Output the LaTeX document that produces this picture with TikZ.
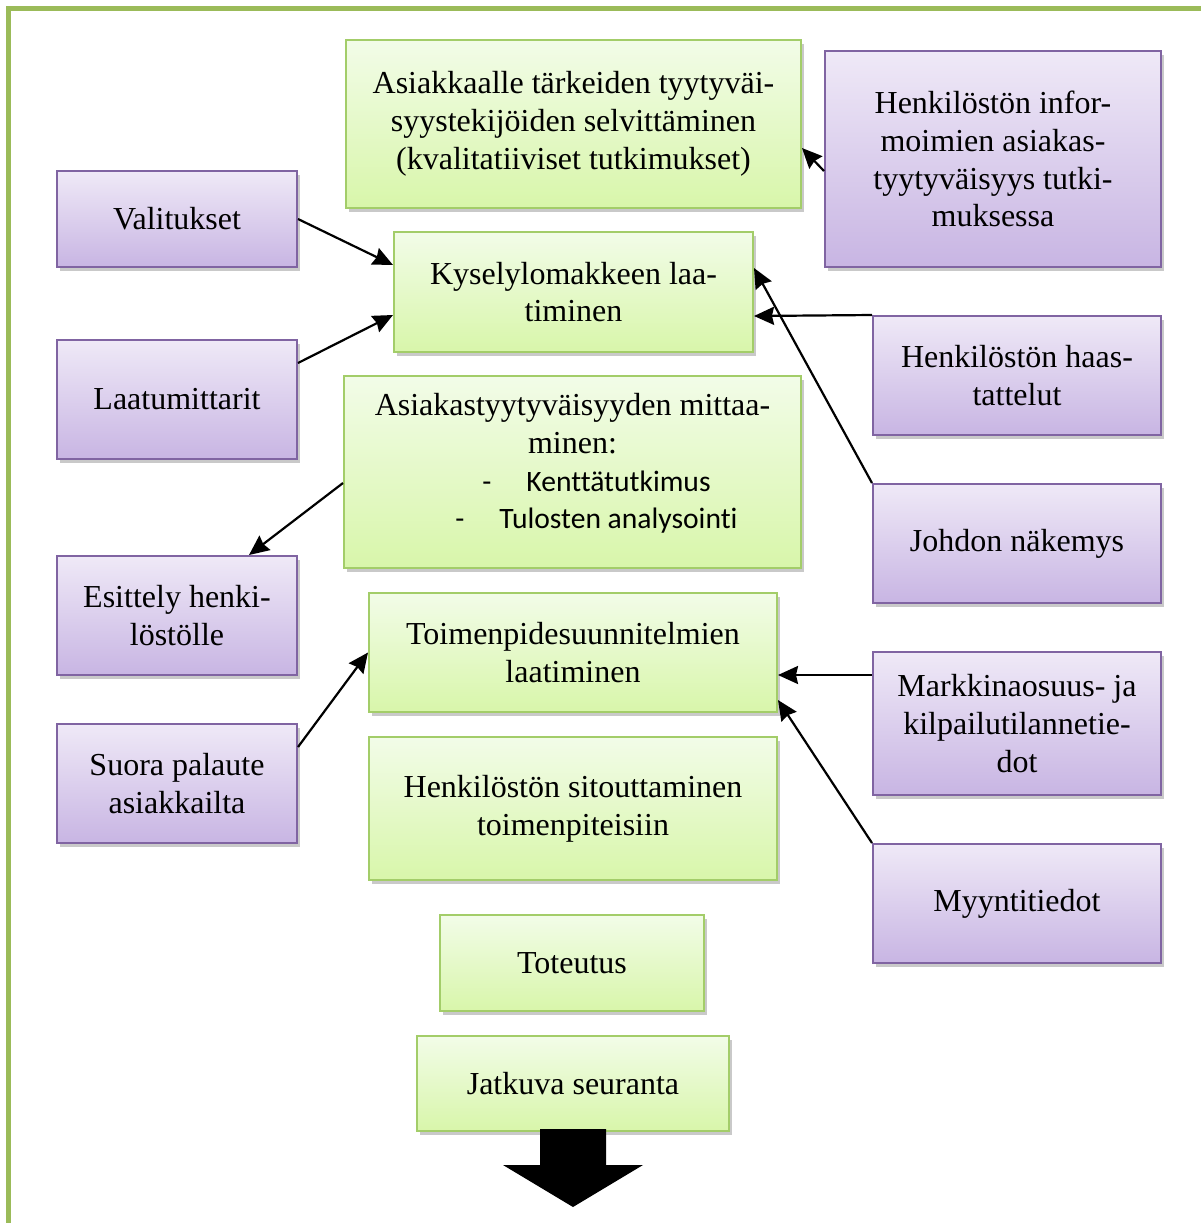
\documentclass[tikz,border=0pt]{standalone}
\usepackage{fontspec}
\setmainfont{Liberation Serif}
\newfontfamily\calibri[Ligatures=NoCommon]{Carlito}
\usetikzlibrary{shadows,arrows.meta}
\definecolor{framegreen}{RGB}{155,187,89}
\definecolor{gborder}{RGB}{163,205,105}
\definecolor{gtop}{RGB}{242,252,232}
\definecolor{gbot}{RGB}{216,246,170}
\definecolor{pborder}{RGB}{128,100,162}
\definecolor{ptop}{RGB}{239,233,247}
\definecolor{pbot}{RGB}{200,181,227}
\newcommand\bul[1]{{\calibri\fontsize{14.8pt}{18.75pt}\selectfont\hspace*{24pt}\makebox[22pt][l]{-}#1}}
\begin{document}
\begin{tikzpicture}[x=0.5pt,y=-0.5pt,
  corners/.style n args={4}{at={({(#1+#3)/2},{(#2+#4)/2})},
    minimum width={0.5pt*(#3-#1)}, minimum height={0.5pt*(#4-#2)}},
  boxbase/.style={inner sep=0pt, align=center, line width=1pt,
    font=\fontsize{16pt}{18.9pt}\selectfont,
    drop shadow={shadow xshift=1.5pt, shadow yshift=-1.8pt, opacity=0.3, fill=black!70}},
  gbox/.style={boxbase, draw=gborder, top color=gtop, bottom color=gbot},
  pbox/.style={boxbase, draw=pborder, top color=ptop, bottom color=pbot},
  conn/.style={line width=1.1pt, -{Stealth[length=10pt,width=9pt,inset=1pt]}}]
\useasboundingbox (0,0) rectangle (1201,1223);
\draw[framegreen, line width=2.5pt] (8.5,1240) -- (8.5,8.5) -- (1220,8.5);

% green boxes
\node[gbox, corners={346}{40}{801}{208}] (aska) {Asiakkaalle tärkeiden tyytyväi-\\syystekijöiden selvittäminen\\(kvalitatiiviset tutkimukset)};
\node[gbox, corners={394}{232}{753}{352}] (kys) {Kyselylomakkeen laa-\\timinen};
\node[gbox, corners={344}{376}{801}{568}] (mit) {Asiakastyytyväisyyden mittaa-\\minen:\\\bul{Kenttätutkimus}\\\bul{Tulosten analysointi}\rule[-11pt]{0pt}{11pt}};
\node[gbox, corners={369}{593}{777}{712}] (toim) {Toimenpidesuunnitelmien\\laatiminen};
\node[gbox, corners={369}{737}{777}{880}] (sit) {Henkilöstön sitouttaminen\\toimenpiteisiin};
\node[gbox, corners={440}{915}{704}{1011}] (tot) {Toteutus};
\node[gbox, corners={417}{1036}{729}{1131}] (jat) {Jatkuva seuranta};

% purple boxes
\node[pbox, corners={57}{171}{297}{267}] (val) {Valitukset};
\node[pbox, corners={57}{340}{297}{459}] (laa) {Laatumittarit};
\node[pbox, corners={57}{556}{297}{675}] (esi) {Esittely henki-\\löstölle};
\node[pbox, corners={57}{724}{297}{843}] (suo) {Suora palaute\\asiakkailta};
\node[pbox, corners={825}{51}{1161}{267}] (inf) {Henkilöstön infor-\\moimien asiakas-\\tyytyväisyys tutki-\\muksessa};
\node[pbox, corners={873}{316}{1161}{435}] (haa) {Henkilöstön haas-\\tattelut};
\node[pbox, corners={873}{484}{1161}{603}] (joh) {Johdon näkemys};
\node[pbox, corners={873}{652}{1161}{795}] (mar) {Markkinaosuus- ja\\kilpailutilannetie-\\dot};
\node[pbox, corners={873}{844}{1161}{963}] (myy) {Myyntitiedot};

% connectors
\draw[conn] (val.east) -- ([yshift=13.5pt]kys.west);
\draw[conn] ([yshift=18.25pt]laa.east) -- ([yshift=-11.5pt]kys.west);
\draw[conn] ([yshift=-5.5pt]mit.west) -- ([xshift=36pt]esi.north);
\draw[conn] ([yshift=18.25pt]suo.east) -- (toim.west);
\draw[conn] ([yshift=-6pt]inf.west) -- ([yshift=-12pt]aska.east);
\draw[conn] (haa.north west) -- ([yshift=-12pt]kys.east);
\draw[conn] (joh.north west) -- ([yshift=12pt]kys.east);
\draw[conn] ([yshift=24.25pt]mar.west) -- ([yshift=-11.25pt]toim.east);
\draw[conn] (myy.north west) -- ([yshift=-23.75pt]toim.east);

% big down arrow
\fill[black] (540,1129) -- (606,1129) -- (606,1165) -- (643,1165) -- (573,1207) -- (503,1165) -- (540,1165) -- cycle;
\end{tikzpicture}
\end{document}
